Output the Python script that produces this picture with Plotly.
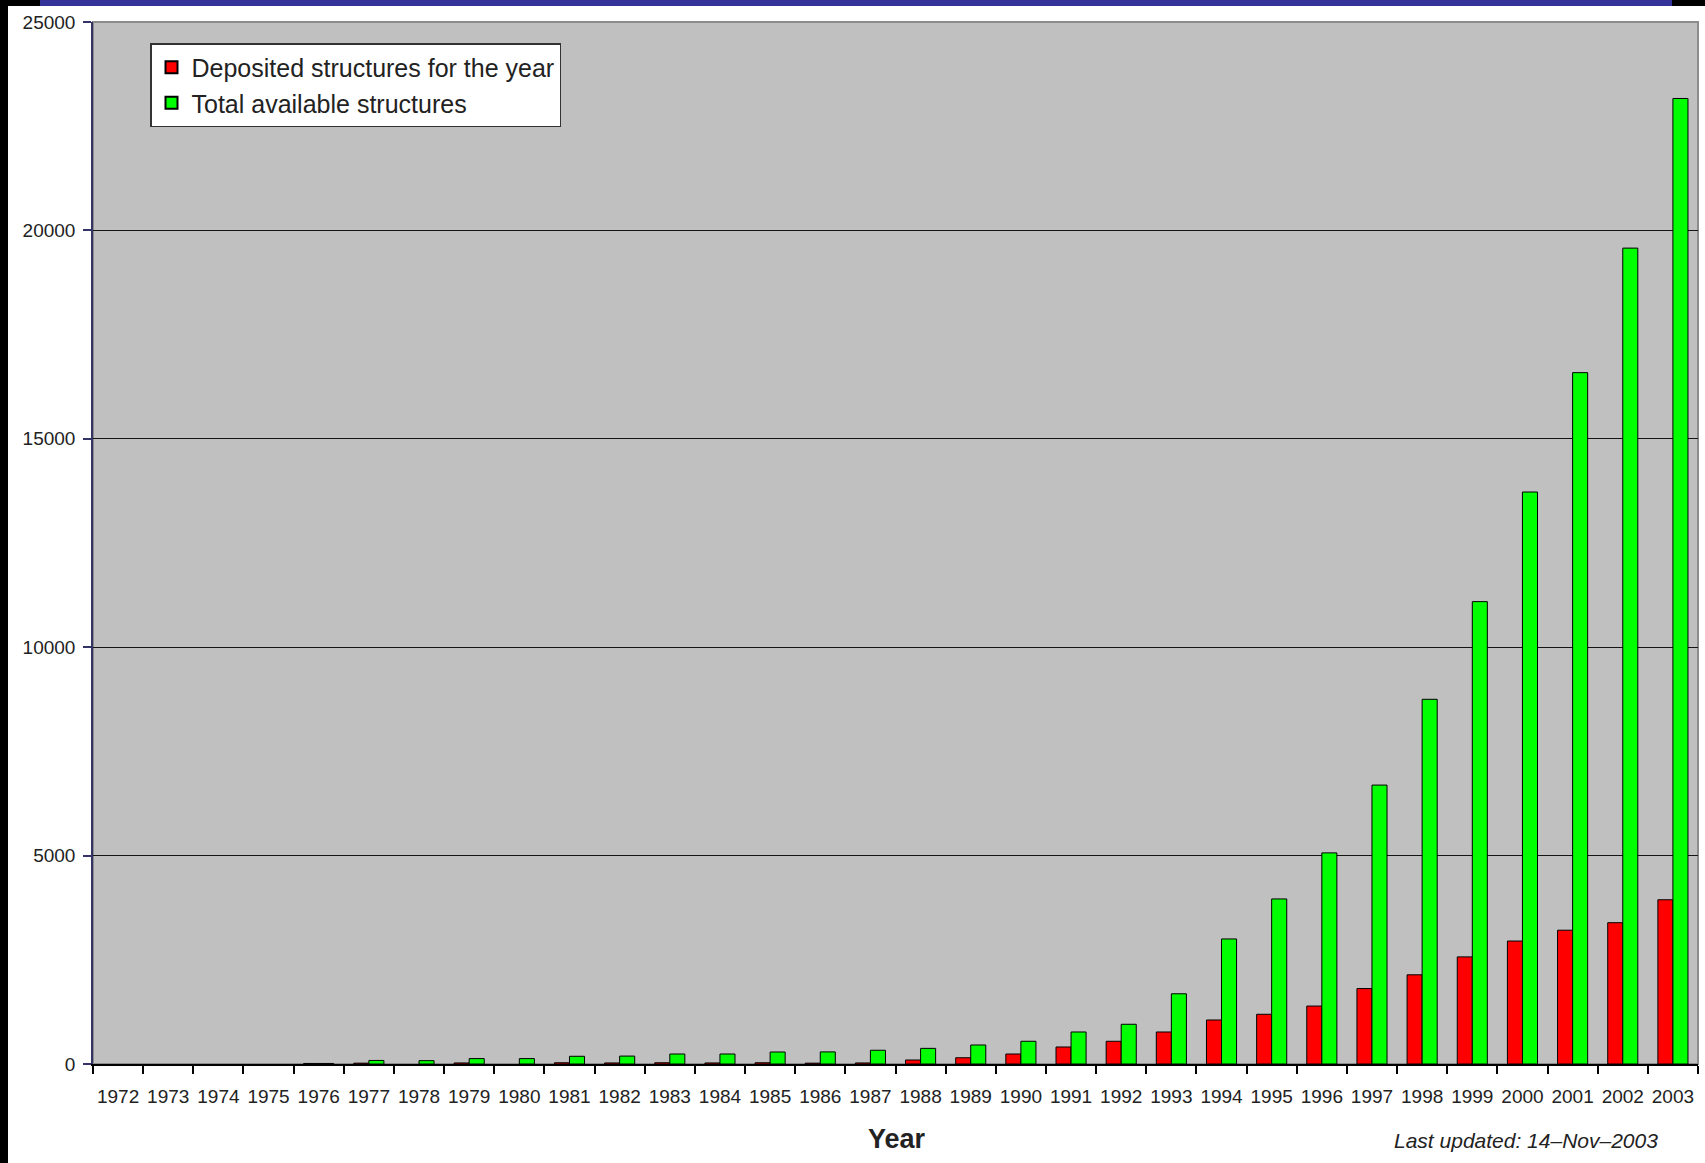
import plotly.graph_objects as go

years = [str(y) for y in range(1972, 2004)]
deposited = [0, 0, 0, 0, 13, 20, 0, 25, 0, 30, 25, 30, 25, 30, 20, 25,
             96, 150, 240, 408, 545, 768, 1056, 1193, 1390, 1810, 2140, 2570,
             2950, 3210, 3390, 3940]
total = [0, 0, 0, 0, 13, 85, 80, 130, 130, 185, 190, 240, 240, 288, 290, 330,
         375, 456, 545, 768, 953, 1685, 3000, 3960, 5065, 6692, 8750, 11093,
         13723, 16587, 19575, 23165]
y_ticks = [0, 5000, 10000, 15000, 20000, 25000]

W, H = 1705, 1163
L, R, T, B = 93, 1698, 22, 1064
PW, PH = R - L, B - T


def px(x):
    return (x - L) / PW


def py(y):
    return (B - y) / PH


def outline(vals):
    return [0 if v == 0 else 1 for v in vals]


fig = go.Figure()
fig.add_trace(go.Bar(
    x=years, y=deposited, name="Deposited structures for the year",
    legendgroup="a",
    marker=dict(color="#FF0000", line=dict(color="#000000", width=outline(deposited)))))
fig.add_trace(go.Bar(
    x=years, y=total, name="Total available structures",
    legendgroup="b",
    marker=dict(color="#00FF00", line=dict(color="#000000", width=outline(total)))))

shapes = [
    dict(type="rect", xref="paper", yref="paper", x0=0, x1=1, y0=0, y1=1,
         line=dict(color="#8C8C8C", width=2), layer="below"),
    dict(type="rect", xref="paper", yref="paper", x0=px(0), x1=px(8),
         y0=py(H), y1=py(0), fillcolor="#000000", line=dict(width=0)),
    dict(type="rect", xref="paper", yref="paper", x0=px(0), x1=px(W),
         y0=py(6), y1=py(0), fillcolor="#333399", line=dict(width=0)),
    dict(type="rect", xref="paper", yref="paper", x0=px(0), x1=px(40),
         y0=py(6), y1=py(0), fillcolor="#000000", line=dict(width=0)),
    dict(type="rect", xref="paper", yref="paper", x0=px(1672), x1=px(W),
         y0=py(6), y1=py(0), fillcolor="#000000", line=dict(width=0)),
]

fig.update_layout(
    width=W, height=H,
    margin=dict(l=L, r=W - R, t=T, b=H - B, pad=0),
    paper_bgcolor="#FFFFFF", plot_bgcolor="#C0C0C0",
    barmode="group", bargap=0.4, bargroupgap=0.0,
    font=dict(family="Liberation Sans, Arial, sans-serif", color="#222222"),
    showlegend=True,
    legend=dict(x=px(150), y=py(43), xanchor="left", yanchor="top",
                bgcolor="#FFFFFF", bordercolor="#333333", borderwidth=1.5,
                font=dict(family="Liberation Sans, Arial", size=25, color="#222222"),
                traceorder="normal", itemsizing="constant", tracegroupgap=9),
    shapes=shapes,
    annotations=[
        dict(text="<b>Year</b>", xref="paper", yref="paper", x=px(897), y=py(1139),
             xanchor="center", yanchor="middle", showarrow=False,
             font=dict(size=27, color="#222222", family="Liberation Sans, Arial")),
        dict(text="<i>Last updated: 14–Nov–2003</i>", xref="paper", yref="paper",
             x=px(1526), y=py(1140), xanchor="center", yanchor="middle", showarrow=False,
             font=dict(size=21, color="#222222", family="Liberation Sans, Arial")),
    ],
)

fig.update_xaxes(
    type="category", categoryorder="array", categoryarray=years,
    showline=True, linecolor="#000000", linewidth=1.5,
    ticks="outside", tickson="boundaries", ticklen=8, tickcolor="#000000", tickwidth=1.5,
    tickangle=0,
    tickfont=dict(family="Liberation Sans, Arial", size=19, color="#222222"),
    ticklabelstandoff=14, showgrid=False, zeroline=False, fixedrange=True,
)
fig.update_yaxes(
    range=[0, 25000], tickvals=y_ticks, ticktext=[str(v) for v in y_ticks],
    showline=True, linecolor="#333366", linewidth=1.5,
    ticks="outside", ticklen=8, tickcolor="#333366", tickwidth=1.5,
    tickfont=dict(family="Liberation Sans, Arial", size=19, color="#222222"),
    ticklabelstandoff=4,
    showgrid=True, gridcolor="#151515", gridwidth=1.4, zeroline=False, fixedrange=True,
)

fig.write_html(
    "out.html",
    config={"displayModeBar": False},
    post_script="document.body.style.margin='0';document.body.style.padding='0';"
                "document.body.style.overflow='hidden';",
)
